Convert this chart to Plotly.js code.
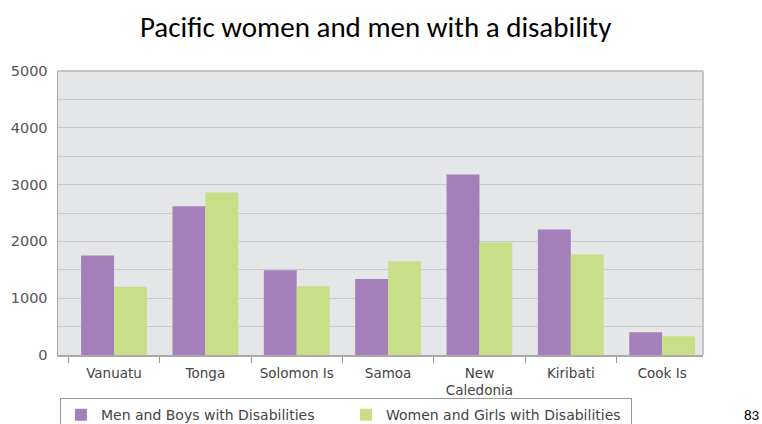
<!DOCTYPE html>
<html>
<head>
<meta charset="utf-8">
<script src="https://cdn.plot.ly/plotly-3.0.1.min.js"></script>
<style>html,body{margin:0;padding:0;background:#fff;}#chart{width:762px;height:424px;}</style>
</head>
<body>
<div id="chart"></div>
<script>
const categories = ["Vanuatu", "Tonga", "Solomon Is", "Samoa", "New<br>Caledonia", "Kiribati", "Cook Is"];
const menValues = [1750, 2620, 1490, 1340, 3180, 2210, 400];
const womenValues = [1200, 2860, 1210, 1650, 1980, 1770, 330];
const seriesNames = ["Men and Boys with Disabilities", "Women and Girls with Disabilities"];
const yTickVals = [0, 1000, 2000, 3000, 4000, 5000];

const traces = [
  {type: "bar", x: categories, y: menValues, name: seriesNames[0], marker: {color: "#a47fba"}},
  {type: "bar", x: categories, y: womenValues, name: seriesNames[1], marker: {color: "#c8df88"}}
];

const layout = {
  width: 762, height: 424,
  margin: {l: 58, r: 59, t: 71, b: 69, autoexpand: false},
  paper_bgcolor: "#ffffff",
  plot_bgcolor: "#e5e6e8",
  barmode: "group",
  bargap: 0.28,
  bargroupgap: 0,
  title: {text: "Pacific women and men with a disability", x: 0.493, xanchor: "center", y: 0.936, yanchor: "middle",
          font: {family: "Carlito, 'Open Sans', 'Noto Sans', sans-serif", size: 29, color: "#000"}},
  font: {family: "'DejaVu Sans', sans-serif", color: "#444"},
  xaxis: {
    type: "category",
    range: [-0.613, 6.447],
    tickson: "boundaries",
    ticks: "outside", ticklen: 6, tickcolor: "#999",
    ticklabelstandoff: 5,
    showline: true, linecolor: "#aaa", linewidth: 1.5,
    showgrid: false, zeroline: false,
    tickfont: {family: "'DejaVu Sans', sans-serif", size: 13.5, color: "#444"}
  },
  yaxis: {
    range: [0, 5000],
    tickvals: yTickVals,
    ticktext: yTickVals.map(String),
    tickfont: {family: "'DejaVu Sans', sans-serif", size: 14.5, color: "#555"},
    ticks: "", ticklabelstandoff: 6,
    showgrid: true, gridcolor: "#c9cacc", gridwidth: 1,
    minor: {dtick: 500, showgrid: true, gridcolor: "#c9cacc", gridwidth: 1},
    showline: true, linecolor: "#aaa", linewidth: 1.5,
    zeroline: false
  },
  shapes: [
    {type: "line", xref: "paper", yref: "paper", x0: 1, x1: 1, y0: 0, y1: 1, line: {color: "#b5b5b5", width: 1.5}},
    {type: "line", xref: "paper", yref: "paper", x0: 0, x1: 1, y0: 1, y1: 1, line: {color: "#b5b5b5", width: 1.5}}
  ],
  legend: {
    orientation: "h",
    xref: "paper", yref: "container",
    x: 0.003, xanchor: "left",
    y: 0.061, yanchor: "top",
    bordercolor: "#999", borderwidth: 1,
    bgcolor: "#fff",
    font: {family: "'DejaVu Sans', sans-serif", size: 14, color: "#444"},
    itemwidth: 30,
    entrywidth: 240, entrywidthmode: "pixels"
  },
  annotations: [
    {text: "83", xref: "paper", yref: "paper", x: 1.076, y: -0.211, xanchor: "center", yanchor: "middle",
     showarrow: false, font: {family: "Carlito, 'Open Sans', sans-serif", size: 15, color: "#000"}}
  ]
};

Plotly.newPlot("chart", traces, layout, {displayModeBar: false, staticPlot: true});
</script>
</body>
</html>
